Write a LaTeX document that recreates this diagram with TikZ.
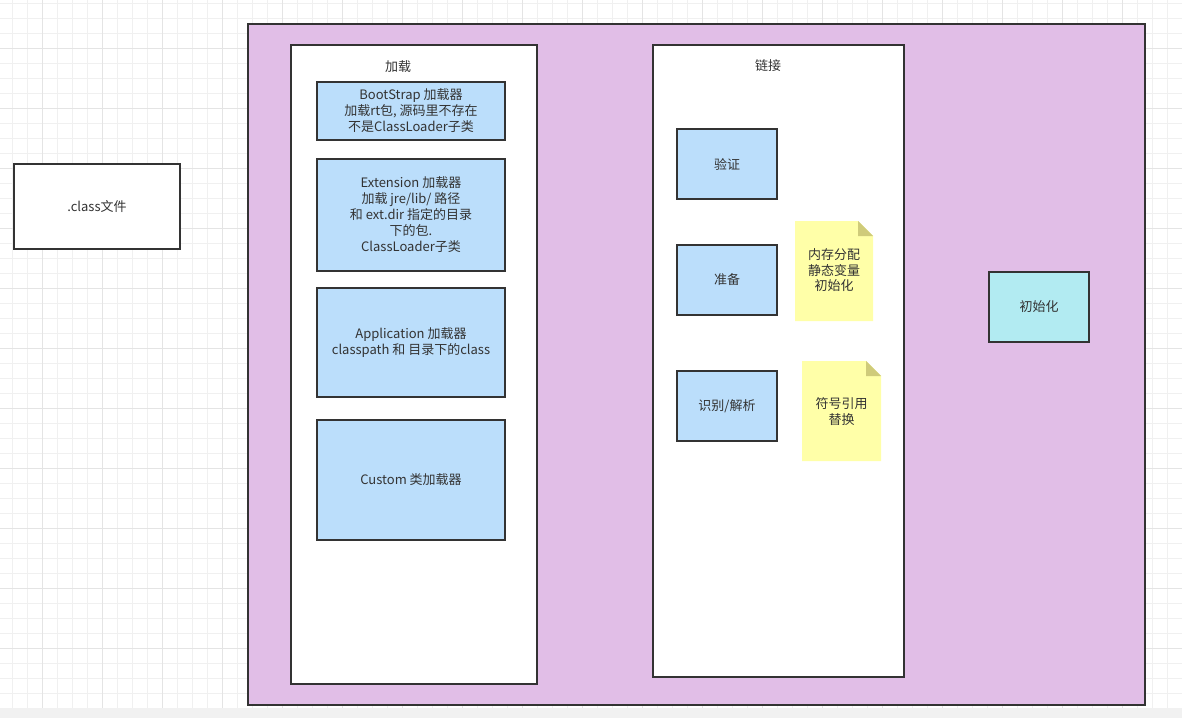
\documentclass[tikz,border=0pt]{standalone}
\usepackage{fontspec}
\setmainfont{Noto Sans CJK SC}
\definecolor{gridminor}{HTML}{F0F0F0}
\definecolor{gridmajor}{HTML}{E4E4E4}
\definecolor{strip}{HTML}{F1F1F1}
\definecolor{edge}{HTML}{333333}
\definecolor{txt}{HTML}{333333}
\definecolor{purp}{HTML}{E1BEE7}
\definecolor{lblue}{HTML}{BBDEFB}
\definecolor{lcyan}{HTML}{B2EBF2}
\definecolor{noteY}{HTML}{FFFFA8}
\definecolor{noteF}{HTML}{CFCB7A}
\tikzset{
  base/.style={rectangle, draw=edge, line width=1.6pt, inner sep=0pt, align=center,
    text=txt, font=\fontsize{13}{16}\selectfont},
  plainbox/.style={base, fill=white},
  bluebox/.style={base, fill=lblue},
  cyanbox/.style={base, fill=lcyan},
  purpbox/.style={base, fill=purp},
  lbl/.style={inner sep=0pt, text=txt, font=\fontsize{13}{16}\selectfont},
  notebox/.style={inner sep=0pt, align=center, text=txt, font=\fontsize{13}{15.5}\selectfont},
}
\newcommand{\notepaper}[5]{% x1 y1 x2 y2 fold
  \fill[noteY] (#1,#2) -- ({#3-#5},#2) -- (#3,{#2+#5}) -- (#3,#4) -- (#1,#4) -- cycle;
  \fill[noteF] ({#3-#5},#2) -- (#3,{#2+#5}) -- ({#3-#5},{#2+#5}) -- cycle;
}
\begin{document}
\begin{tikzpicture}[x=1pt,y=-1pt]
\useasboundingbox (0,0) rectangle (1182,718);
\fill[white] (0,0) rectangle (1182,718);
% grid
\foreach \i in {0,...,78} { \draw[gridminor, line width=1pt] ({12.5+15*\i},0) -- ({12.5+15*\i},708); }
\foreach \j in {0,...,47} { \draw[gridminor, line width=1pt] (0,{3.5+15*\j}) -- (1182,{3.5+15*\j}); }
\foreach \i in {0,...,19} { \draw[gridmajor, line width=1pt] ({42.5+60*\i},0) -- ({42.5+60*\i},708); }
\foreach \j in {0,...,11} { \draw[gridmajor, line width=1pt] (0,{48.5+60*\j}) -- (1182,{48.5+60*\j}); }
\fill[strip] (0,708) rectangle (1182,718);

% class file
\node[plainbox, minimum width=166pt, minimum height=85pt] (cls) at (97,206.5) {.class文件};

% big purple area
\node[purpbox, minimum width=897pt, minimum height=681pt] (jvm) at (696.5,364.5) {};

% loading container
\node[plainbox, minimum width=246pt, minimum height=639pt] (load) at (414,364.5) {};
\node[lbl] (loadlbl) at (398,67) {加载};
\node[bluebox, minimum width=188pt, minimum height=58pt] (boot) at (411,111) {BootStrap 加载器\\加载rt包, 源码里不存在\\不是ClassLoader子类};
\node[bluebox, minimum width=188pt, minimum height=112pt] (ext) at (411,215) {Extension 加载器\\加载 jre/lib/ 路径\\和 ext.dir 指定的目录\\下的包.\\ClassLoader子类};
\node[bluebox, minimum width=188pt, minimum height=109pt] (app) at (411,342.5) {Application 加载器\\classpath 和 目录下的class};
\node[bluebox, minimum width=188pt, minimum height=120pt] (cus) at (411,480) {Custom 类加载器};

% linking container
\node[plainbox, minimum width=251pt, minimum height=632pt] (link) at (778.5,361) {};
\node[lbl] (linklbl) at (768,66) {链接};
\node[bluebox, minimum width=100pt, minimum height=70pt] (verify) at (727,164) {验证};
\node[bluebox, minimum width=100pt, minimum height=70pt] (prep) at (727,280) {准备};
\node[bluebox, minimum width=100pt, minimum height=70pt] (resolve) at (727,406) {识别/解析};

% notes
\notepaper{795}{221}{873}{321}{15}
\node[notebox] (note1) at (834,270.5) {内存分配\\静态变量\\初始化};
\notepaper{802}{361}{881}{461}{15}
\node[notebox] (note2) at (841.5,411.5) {符号引用\\替换};

% init
\node[cyanbox, minimum width=100pt, minimum height=70pt] (init) at (1039,307) {初始化};
\end{tikzpicture}
\end{document}
